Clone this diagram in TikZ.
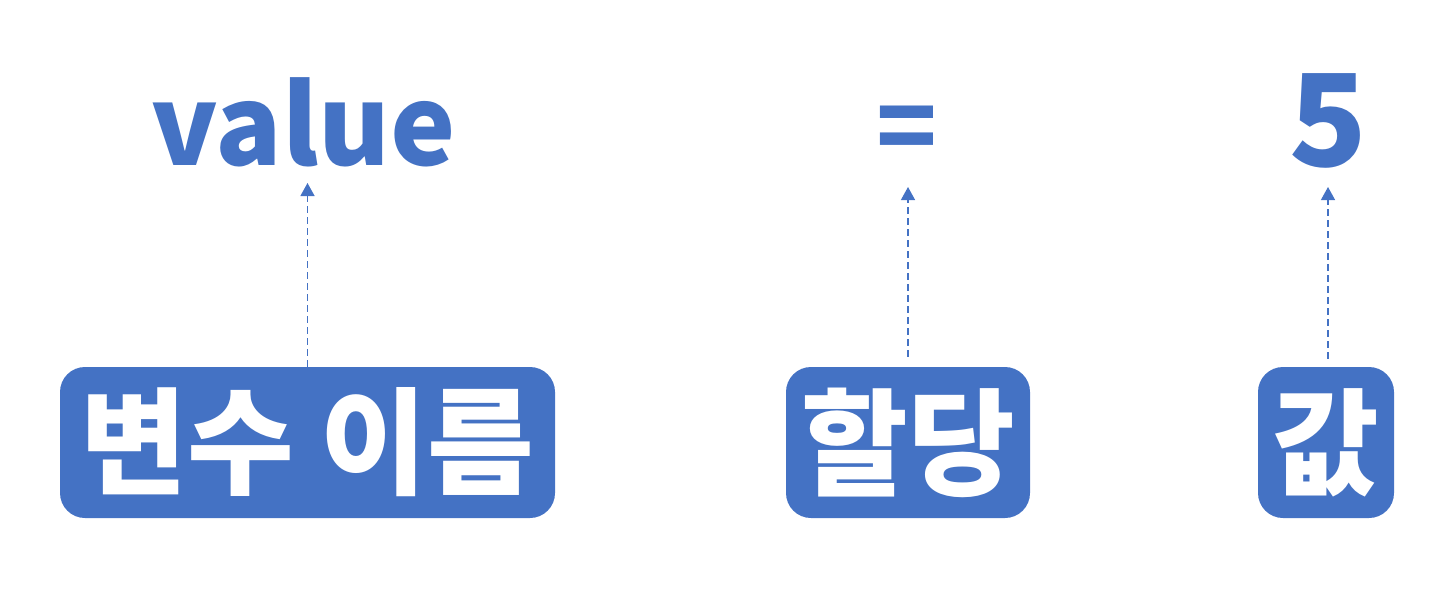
\documentclass[tikz,border=0pt]{standalone}
\usepackage{fontspec}
\newfontfamily\krblack{Noto Sans CJK KR Black}
\definecolor{mblue}{HTML}{4472C4}
\usetikzlibrary{arrows.meta}
\begin{document}
\begin{tikzpicture}[x=1pt,y=-1pt,
  label box/.style={fill=mblue, rounded corners=25pt, minimum height=151pt, inner sep=0pt,
    text=white, font=\krblack\fontsize{116}{116}\selectfont},
  code text/.style={anchor=base, inner sep=0pt, text=mblue, font=\krblack\fontsize{#1}{#1}\selectfont},
  arr/.style={draw=mblue, line width=1.3pt, dash pattern=on 7pt off 4pt,
    -{Triangle[length=13pt,width=14pt]}}]
\path[use as bounding box] (0,0) rectangle (1454,589);
\node[code text=110] (v) at (303.5,165) {value};
\node[code text=100] (eq) at (907,163) {=};
\node[code text=128] (five) at (1328,166) {5};
\node[label box, minimum width=495pt] (b1) at (307.5,442.5) {변수 이름};
\node[label box, minimum width=244pt] (b2) at (908,442.5) {할당};
\node[label box, minimum width=136pt] (b3) at (1326,442.5) {값};
\draw[arr, shorten >=18pt] (b1.north) -- (b1.north |- v.base);
\draw[arr, shorten <=10pt, shorten >=24pt] (b2.north) -- (b2.north |- eq.base);
\draw[arr, shorten <=8pt, shorten >=21pt] ([xshift=2pt]b3.north) -- ([xshift=2pt]b3.north |- five.base);
\end{tikzpicture}
\end{document}
